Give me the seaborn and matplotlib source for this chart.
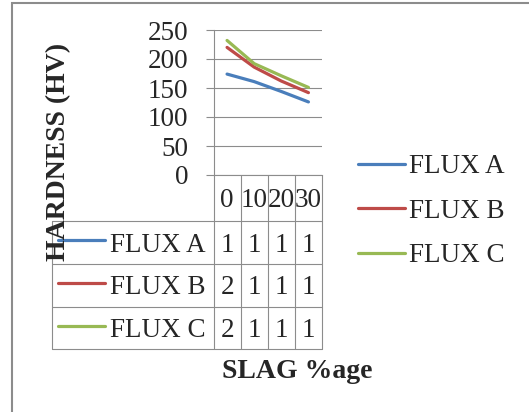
import matplotlib.pyplot as plt
import seaborn as sns
import pandas as pd
from matplotlib.patches import Rectangle

# values
slag = ['0', '10', '20', '30']
flux_names = ['FLUX A', 'FLUX B', 'FLUX C']
flux_a = [174, 161, 144, 126]
flux_b = [220, 186, 162, 142]
flux_c = [232, 192, 171, 151]
colors = ['#4a7ebb', '#be4b48', '#98b954']

W, H = 529, 412
FS = 19.5          # text size in pt
LW = 2.3           # series line width
GRID = '#8c8c8c'

sns.set_style('white')
plt.rcParams['font.family'] = ['Liberation Serif', 'DejaVu Serif']

# long table for seaborn
rows = []
for name, vals in zip(flux_names, [flux_a, flux_b, flux_c]):
    for i, v in enumerate(vals):
        rows.append({'pos': i, 'hardness': v, 'flux': name})
df = pd.DataFrame(rows)

# plot area in pixels
AX_L, AX_R, AX_T, AX_B = 213.5, 322, 30, 175


def ax_x(px):
    return (px - AX_L) / (AX_R - AX_L)


def ax_y(py):
    return (AX_B - py) / (AX_B - AX_T)


fig = plt.figure(figsize=(W / 100, H / 100), dpi=100)
ax = fig.add_axes([AX_L / W, 1 - AX_B / H, (AX_R - AX_L) / W, (AX_B - AX_T) / H])

sns.lineplot(data=df, x='pos', y='hardness', hue='flux', palette=colors,
             legend=False, ax=ax, linewidth=LW, solid_capstyle='round')

ax.set_xlim(-0.5, len(slag) - 0.5)
ax.set_ylim(0, 250)
ax.set_yticks(range(0, 251, 50))
ax.set_xticks([])
ax.set_xlabel('')
ax.set_ylabel('')
ax.yaxis.grid(True, color=GRID, lw=0.8)
ax.set_axisbelow(True)
for s in ['top', 'right']:
    ax.spines[s].set_visible(False)
for s in ['left', 'bottom']:
    ax.spines[s].set_color(GRID)
    ax.spines[s].set_linewidth(0.8)
ax.tick_params(axis='y', length=5.8, width=0.8, color=GRID, pad=12.5,
               labelsize=FS, direction='out', left=True)

# data table under the plot
xt = ax.get_xaxis_transform()
tkw = dict(clip_on=False, color=GRID, lw=0.8)
tab_left = ax_x(52.3)
row_lines = [221, 264.3, 306.7, 349]
for py in row_lines:
    ax.plot([tab_left, 1], [ax_y(py)] * 2, transform=ax.transAxes, **tkw)
ax.plot([tab_left, tab_left], [ax_y(221), ax_y(349)], transform=ax.transAxes, **tkw)
ax.plot([0, 0], [0, ax_y(349)], transform=ax.transAxes, **tkw)
for k in range(len(slag)):
    ax.plot([k + 0.5, k + 0.5], [0, ax_y(349)], transform=xt, **tkw)

for k, lab in enumerate(slag):
    ax.text(k, ax_y(206.7), lab, transform=xt, ha='center', va='baseline', fontsize=FS)

row_base = [251.7, 294, 336.7]
row_key = [240, 283.3, 325.7]
for name, vals, c, yb, yk in zip(flux_names, [flux_a, flux_b, flux_c], colors, row_base, row_key):
    ax.plot([ax_x(58), ax_x(105)], [ax_y(yk)] * 2, transform=ax.transAxes,
            clip_on=False, color=c, lw=LW, solid_capstyle='round')
    ax.text(ax_x(110), ax_y(yb), name, transform=ax.transAxes, ha='left',
            va='baseline', fontsize=FS)
    for k, v in enumerate(vals):
        # the narrow cells only show the first digit
        ax.text(k, ax_y(yb), str(v)[0], transform=xt, ha='center',
                va='baseline', fontsize=FS)

# legend on the right
leg_base = [173.3, 218.3, 261.7]
leg_key = [164, 208, 252.7]
for name, c, yb, yk in zip(flux_names, colors, leg_base, leg_key):
    ax.plot([ax_x(358), ax_x(405)], [ax_y(yk)] * 2, transform=ax.transAxes,
            clip_on=False, color=c, lw=LW, solid_capstyle='round')
    ax.text(ax_x(409), ax_y(yb), name, transform=ax.transAxes, ha='left',
            va='baseline', fontsize=FS)

# axis titles
ax.text(ax_x(59), ax_y(152), 'HARDNESS (HV)', transform=ax.transAxes, rotation=90,
        ha='center', va='center', fontsize=20, fontweight='bold')
ax.text(ax_x(297.5), ax_y(378), 'SLAG %age', transform=ax.transAxes,
        ha='center', va='baseline', fontsize=20, fontweight='bold')

# outer chart frame (only top and left edges visible)
fig.add_artist(Rectangle((12 / W, -0.2), 2, 1.2 - 3.3 / H, transform=fig.transFigure,
                         fill=False, edgecolor='#8c8c8c', lw=1.5))

fig.savefig('out.png', dpi=100)
